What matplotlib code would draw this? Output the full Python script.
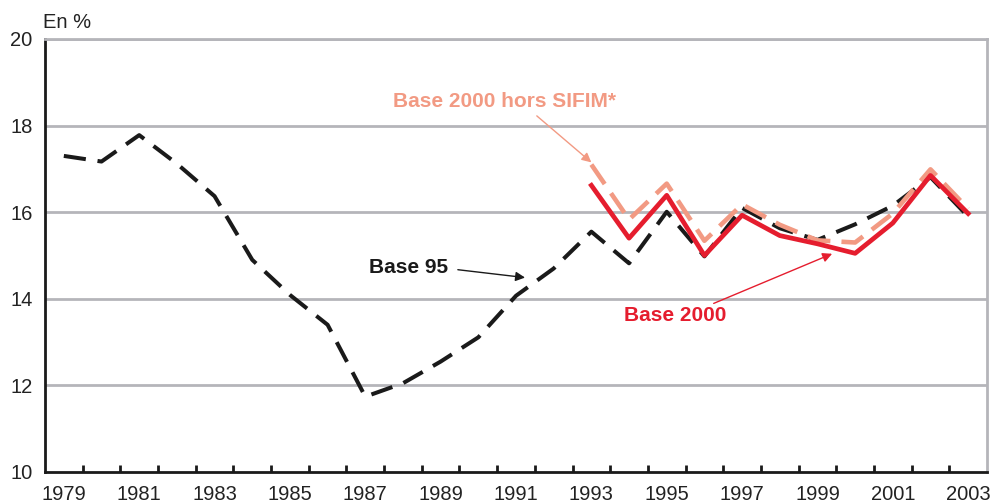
import numpy as np
from matplotlib import pyplot as plt

plt.rcParams['font.family'] = ['Liberation Sans', 'DejaVu Sans']
plt.rcParams['lines.scale_dashes'] = False

# donnees
annees = list(range(1979, 2004))
base95 = [17.30, 17.17, 17.78, 17.12, 16.37, 14.90, 14.09, 13.40, 11.74, 12.05,
          12.55, 13.11, 14.07, 14.70, 15.55, 14.82, 16.01, 14.98, 16.10, 15.63,
          15.36, 15.72, 16.15, 16.81, 15.90]
annees2000 = list(range(1993, 2004))
base2000 = [16.62, 15.40, 16.39, 15.00, 15.93, 15.46, 15.27, 15.05, 15.75, 16.85, 15.97]
hors_sifim = [17.10, 15.83, 16.66, 15.34, 16.18, 15.71, 15.35, 15.30, 15.97, 16.99, 16.08]
ticks_y = [10, 12, 14, 16, 18, 20]

rouge = '#e51d2e'
saumon = '#f29a83'
gris = '#b5b5ba'
noir = '#1a1a1a'

x95 = np.arange(len(annees))
x2000 = np.array([annees.index(a) for a in annees2000])

fig = plt.figure(figsize=(9.92, 5.03), dpi=100)
ax = fig.add_axes([45/992, 1-472/503, 942/992, 433/503])

for v in ticks_y[1:]:
    ax.axhline(v, color=gris, lw=2, zorder=1)

l1, = ax.plot(x95, base95, color=noir, lw=2.9, zorder=3)
l1.set_dashes([16, 8.5])
l3, = ax.plot(x2000, hors_sifim, color=saumon, lw=3.3, zorder=4)
l3.set_dashes([17, 8])
ax.plot(x2000, base2000, color=rouge, lw=3.4, zorder=5)

ax.set_xlim(-0.5, len(annees) - 0.5)
ax.set_ylim(10, 20)
ax.set_yticks(ticks_y)
ax.set_yticklabels([str(v) for v in ticks_y])
ax.tick_params(axis='y', length=0, pad=9, labelsize=14.5, labelcolor='#222222')

ax.set_xticks(x95[::2])
ax.set_xticklabels([str(a) for a in annees[::2]])
ax.set_xticks(np.arange(0.5, len(annees) - 1, 1), minor=True)
ax.tick_params(axis='x', which='major', length=0, pad=9, labelsize=14.5, labelcolor='#222222')
ax.tick_params(axis='x', which='minor', direction='in', length=5, width=2, color=noir)

for s in ['left', 'bottom']:
    ax.spines[s].set_color(noir)
    ax.spines[s].set_linewidth(2)
for s in ['top', 'right']:
    ax.spines[s].set_color(gris)
    ax.spines[s].set_linewidth(2)

fig.text(43/992, 1-22/503, 'En %', fontsize=14.5, color='#222222', va='center', ha='left')

# annotations
ax.annotate('Base 2000 hors SIFIM*', xy=(x2000[0], hors_sifim[0] + 0.05),
            xytext=(8.74, 18.55), fontsize=15, fontweight='bold', color=saumon,
            ha='left', va='center',
            arrowprops=dict(arrowstyle='-|>', color=saumon, lw=1.0, mutation_scale=14,
                            shrinkA=2, shrinkB=0, relpos=(0.62, 0.0)))
ax.annotate('Base 95', xy=(12.24, 14.49), xytext=(8.1, 14.72),
            fontsize=15, fontweight='bold', color=noir, ha='left', va='center',
            arrowprops=dict(arrowstyle='-|>', color=noir, lw=1.0, mutation_scale=14,
                            shrinkA=5, shrinkB=0, relpos=(1.0, 0.45)))
ax.annotate('Base 2000', xy=(20.39, 15.04), xytext=(14.87, 13.61),
            fontsize=15, fontweight='bold', color=rouge, ha='left', va='center',
            arrowprops=dict(arrowstyle='-|>', color=rouge, lw=1.0, mutation_scale=14,
                            shrinkA=0, shrinkB=0, relpos=(0.81, 1.0)))

fig.savefig('out.png', dpi=100)
